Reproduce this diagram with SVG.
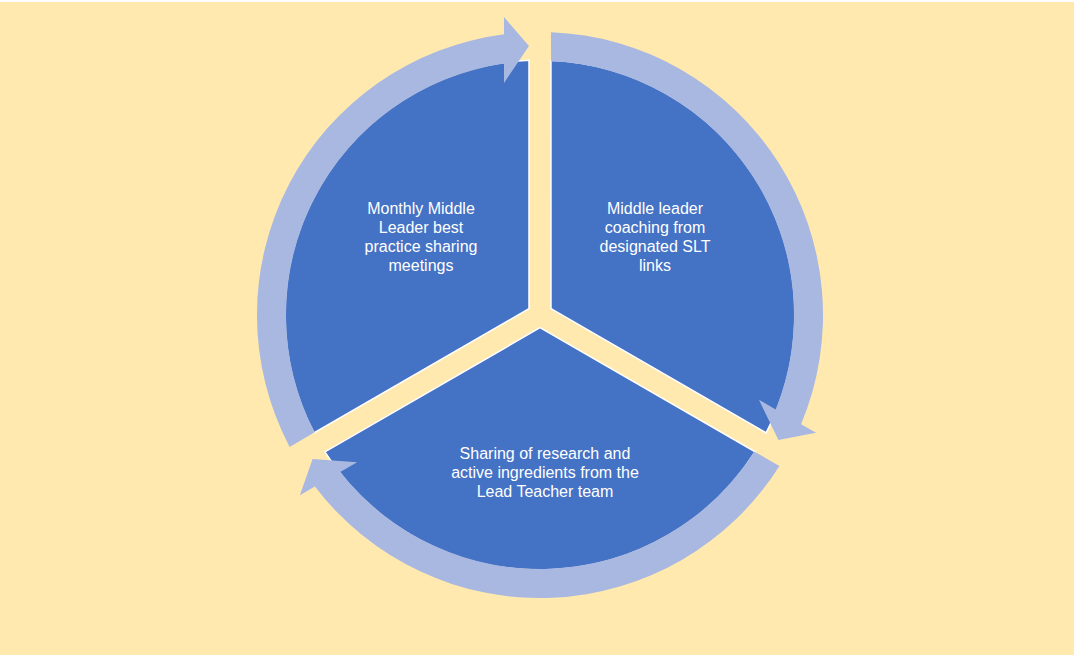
<svg xmlns="http://www.w3.org/2000/svg" width="1080" height="661" viewBox="0 0 1080 661">
  <defs>
    <style>
      .seg { fill: #4472C4; stroke: #FFFFFF; stroke-width: 1.5; stroke-linejoin: miter; }
      .arrow { fill: #A9B8E0; stroke: none; }
      .label { font-family: "Liberation Sans", Arial, sans-serif; font-size: 16px; fill: #FFFFFF; text-anchor: middle; }
    </style>
    <path id="segShape" d="M 529 308.65 L 529 60.24 A 255 255 0 0 0 313.9 432.9 Z"/>
    <path id="arrowShape" d="M 289.6 446.9 A 283 283 0 0 1 504 34.3 L 504 17 L 529 46 L 504 83 L 504 63.6 A 254 254 0 0 0 314.7 432.3 Z"/>
  </defs>
  <rect x="0" y="0" width="1080" height="661" fill="#FFFFFF"/>
  <rect x="0" y="2" width="1074" height="653" fill="#FFE9AF"/>

  <g id="node-monthly">
    <use href="#segShape" class="seg"/>
    <text class="label" x="421" y="214">Monthly Middle</text>
    <text class="label" x="421" y="233">Leader best</text>
    <text class="label" x="421" y="252">practice sharing</text>
    <text class="label" x="421" y="271">meetings</text>
  </g>
  <g id="node-coaching">
    <use href="#segShape" class="seg" transform="rotate(120 540 315)"/>
    <text class="label" x="655" y="214">Middle leader</text>
    <text class="label" x="655" y="233">coaching from</text>
    <text class="label" x="655" y="252">designated SLT</text>
    <text class="label" x="655" y="271">links</text>
  </g>
  <g id="node-sharing">
    <use href="#segShape" class="seg" transform="rotate(240 540 315)"/>
    <text class="label" x="545" y="459">Sharing of research and</text>
    <text class="label" x="545" y="478">active ingredients from the</text>
    <text class="label" x="545" y="497">Lead Teacher team</text>
  </g>

  <g id="connectors">
    <use href="#arrowShape" class="arrow"/>
    <use href="#arrowShape" class="arrow" transform="rotate(120 540 315)"/>
    <use href="#arrowShape" class="arrow" transform="rotate(240 540 315)"/>
  </g>
</svg>
